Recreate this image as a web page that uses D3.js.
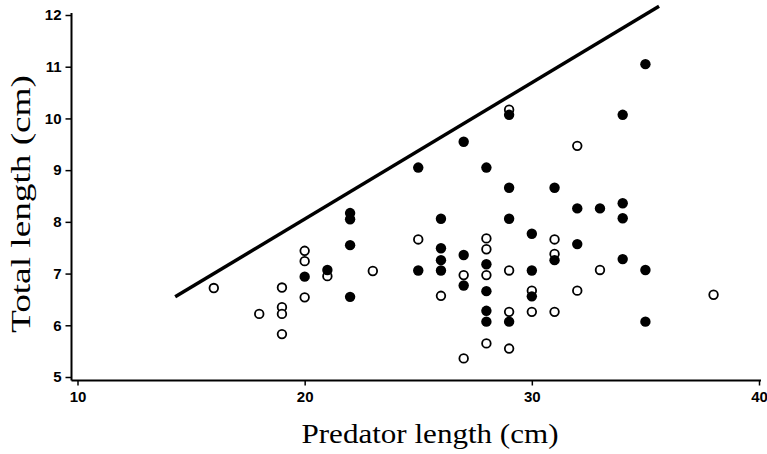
<!DOCTYPE html>
<html>
<head>
<meta charset="utf-8">
<script src="https://cdn.jsdelivr.net/npm/d3@7"></script>
<style>
  body { margin: 0; background: #fff; }
  svg { display: block; }
</style>
</head>
<body>
<svg id="chart" width="767" height="454"></svg>
<script>
// Open circles (predator length, total length)
const openX = [16, 18, 19, 19, 19, 19, 20, 20, 20, 21, 23, 25, 26, 27, 27, 28, 28, 28, 28, 29, 29, 29, 29, 30, 30, 31, 31, 31, 32, 32, 33, 38];
const openY = [6.72, 6.22, 6.73, 6.35, 6.22, 5.83, 7.44, 7.24, 6.54, 6.95, 7.05, 7.66, 6.57, 6.97, 5.36, 7.68, 7.47, 6.97, 5.65, 10.17, 7.06, 6.26, 5.55, 6.67, 6.26, 7.66, 7.38, 6.26, 9.47, 6.67, 7.07, 6.59];

// Filled circles
const filledX = [20, 21, 22, 22, 22, 22, 25, 25, 26, 26, 26, 26, 27, 27, 27, 28, 28, 28, 28, 28, 29, 29, 29, 29, 30, 30, 30, 31, 31, 32, 32, 33, 34, 34, 34, 34, 35, 35, 35];
const filledY = [6.94, 7.07, 8.17, 8.05, 7.55, 6.55, 9.05, 7.06, 8.06, 7.49, 7.26, 7.06, 9.55, 7.36, 6.77, 9.05, 7.18, 6.66, 6.28, 6.07, 10.07, 8.66, 8.06, 6.07, 7.77, 7.06, 6.56, 8.66, 7.26, 8.26, 7.57, 8.26, 10.07, 8.36, 8.07, 7.28, 11.05, 7.07, 6.07];

// Upper boundary line
const lineX = [14.3, 35.6];
const lineY = [6.55, 12.17];

const xTicks = [10, 20, 30, 40];
const yTicks = [5, 6, 7, 8, 9, 10, 11, 12];

const svg = d3.select("#chart");

const x = d3.scaleLinear().domain([10, 40]).range([77.5, 759]);
const y = d3.scaleLinear().domain([5, 12]).range([377, 15]);

const axisX0 = 71.5;   // y axis position
const axisY0 = 380.5;  // x axis position

// axes
const yAxis = svg.append("g")
  .attr("transform", `translate(${axisX0},0)`)
  .call(d3.axisLeft(y).tickValues(yTicks).tickSize(6).tickPadding(4).tickFormat(d3.format("d")));
yAxis.select(".domain").remove();

const xAxis = svg.append("g")
  .attr("transform", `translate(0,${axisY0})`)
  .call(d3.axisBottom(x).tickValues(xTicks).tickSize(5).tickPadding(6).tickFormat(d3.format("d")));
xAxis.select(".domain").remove();

svg.selectAll(".tick line").attr("stroke", "#000").attr("stroke-width", 1.5);
svg.selectAll(".tick text")
  .attr("fill", "#000")
  .style("font-family", "'Liberation Sans', Arial, sans-serif")
  .style("font-weight", "bold")
  .style("font-size", "15px");

svg.append("line")
  .attr("x1", axisX0).attr("x2", axisX0)
  .attr("y1", y(12) - 2).attr("y2", axisY0)
  .attr("stroke", "#000").attr("stroke-width", 2);

svg.append("line")
  .attr("x1", axisX0).attr("x2", x(40) + 2)
  .attr("y1", axisY0).attr("y2", axisY0)
  .attr("stroke", "#000").attr("stroke-width", 2);

// boundary line
svg.append("path")
  .datum(lineX.map((d, i) => [d, lineY[i]]))
  .attr("d", d3.line().x(d => x(d[0])).y(d => y(d[1])))
  .attr("fill", "none")
  .attr("stroke", "#000")
  .attr("stroke-width", 3.5);

// points
svg.append("g").selectAll("circle")
  .data(openX.map((d, i) => [d, openY[i]]))
  .join("circle")
  .attr("cx", d => x(d[0]))
  .attr("cy", d => y(d[1]))
  .attr("r", 4.3)
  .attr("fill", "#fff")
  .attr("stroke", "#000")
  .attr("stroke-width", 1.8);

svg.append("g").selectAll("circle")
  .data(filledX.map((d, i) => [d, filledY[i]]))
  .join("circle")
  .attr("cx", d => x(d[0]))
  .attr("cy", d => y(d[1]))
  .attr("r", 5.2)
  .attr("fill", "#000");

// axis titles
svg.append("text")
  .attr("x", 430)
  .attr("y", 443)
  .attr("text-anchor", "middle")
  .attr("textLength", 257)
  .attr("lengthAdjust", "spacingAndGlyphs")
  .style("font-family", "'Liberation Serif', 'Times New Roman', serif")
  .style("font-size", "27px")
  .text("Predator length (cm)");

svg.append("text")
  .attr("transform", "translate(30,204) rotate(-90)")
  .attr("text-anchor", "middle")
  .attr("textLength", 258)
  .attr("lengthAdjust", "spacingAndGlyphs")
  .style("font-family", "'Liberation Serif', 'Times New Roman', serif")
  .style("font-size", "27px")
  .text("Total length (cm)");
</script>
</body>
</html>
